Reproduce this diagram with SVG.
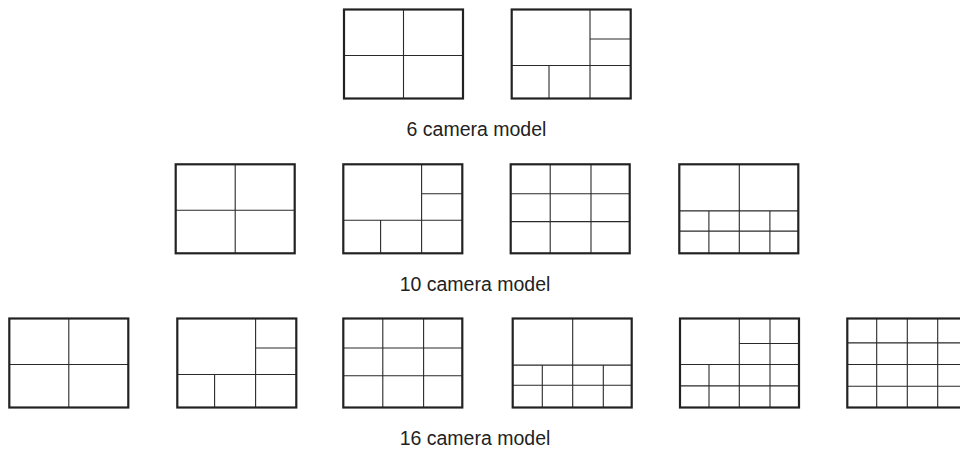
<svg xmlns="http://www.w3.org/2000/svg" xmlns:xlink="http://www.w3.org/1999/xlink" width="960" height="450" viewBox="0 0 960 450">
<style>
.frame{fill:none;stroke:#222;stroke-width:2.2}
.div{fill:none;stroke:#2a2a2a;stroke-width:1.1}
.label{font-family:"Liberation Sans",Arial,Helvetica,sans-serif;font-size:19.5px;fill:#222;text-anchor:middle}
</style>
<defs>
<g id="quad">
<path class="div" d="M59.5 0V89M0 46H119"/>
<rect class="frame" x="0" y="0" width="119" height="89"/>
</g>
<g id="six">
<path class="div" d="M78.3 0V89M78.3 29.5H119M0 56H119M37.3 56V89"/>
<rect class="frame" x="0" y="0" width="119" height="89"/>
</g>
<g id="nine">
<path class="div" d="M39.5 0V89M80.3 0V89M0 29.5H119M0 57.3H119"/>
<rect class="frame" x="0" y="0" width="119" height="89"/>
</g>
<g id="ten">
<path class="div" d="M60 0V89M0 46.6H119M0 66.8H119M29.6 46.6V89M90.6 46.6V89"/>
<rect class="frame" x="0" y="0" width="119" height="89"/>
</g>
<g id="thirteen">
<path class="div" d="M59.3 0V89M90 0V89M59.3 25H119M0 46H119M0 67.4H119M29 46V89"/>
<rect class="frame" x="0" y="0" width="119" height="89"/>
</g>
<g id="sixteen">
<path class="div" d="M29.4 0V89M60 0V89M90.4 0V89M0 24.4H119M0 46H119M0 67.7H119"/>
<rect class="frame" x="0" y="0" width="119" height="89"/>
</g>
</defs>
<g id="row1">
<g id="r1-quad" transform="translate(344,9.5)"><use xlink:href="#quad" href="#quad"/></g>
<g id="r1-six" transform="translate(511.7,9.5)"><use xlink:href="#six" href="#six"/></g>
<text id="label-6" class="label" x="476.5" y="135.5">6 camera model</text>
</g>
<g id="row2">
<g id="r2-quad" transform="translate(175.7,164.3)"><use xlink:href="#quad" href="#quad"/></g>
<g id="r2-six" transform="translate(343.3,164.3)"><use xlink:href="#six" href="#six"/></g>
<g id="r2-nine" transform="translate(510.7,164.3)"><use xlink:href="#nine" href="#nine"/></g>
<g id="r2-ten" transform="translate(679.3,164.3)"><use xlink:href="#ten" href="#ten"/></g>
<text id="label-10" class="label" x="475" y="290.5">10 camera model</text>
</g>
<g id="row3">
<g id="r3-quad" transform="translate(9.3,318.5)"><use xlink:href="#quad" href="#quad"/></g>
<g id="r3-six" transform="translate(177.3,318.5)"><use xlink:href="#six" href="#six"/></g>
<g id="r3-nine" transform="translate(343.3,318.5)"><use xlink:href="#nine" href="#nine"/></g>
<g id="r3-ten" transform="translate(512.7,318.5)"><use xlink:href="#ten" href="#ten"/></g>
<g id="r3-thirteen" transform="translate(680,318.5)"><use xlink:href="#thirteen" href="#thirteen"/></g>
<g id="r3-sixteen" transform="translate(847.3,318.5)"><use xlink:href="#sixteen" href="#sixteen"/></g>
<text id="label-16" class="label" x="475" y="445">16 camera model</text>
</g>
</svg>
